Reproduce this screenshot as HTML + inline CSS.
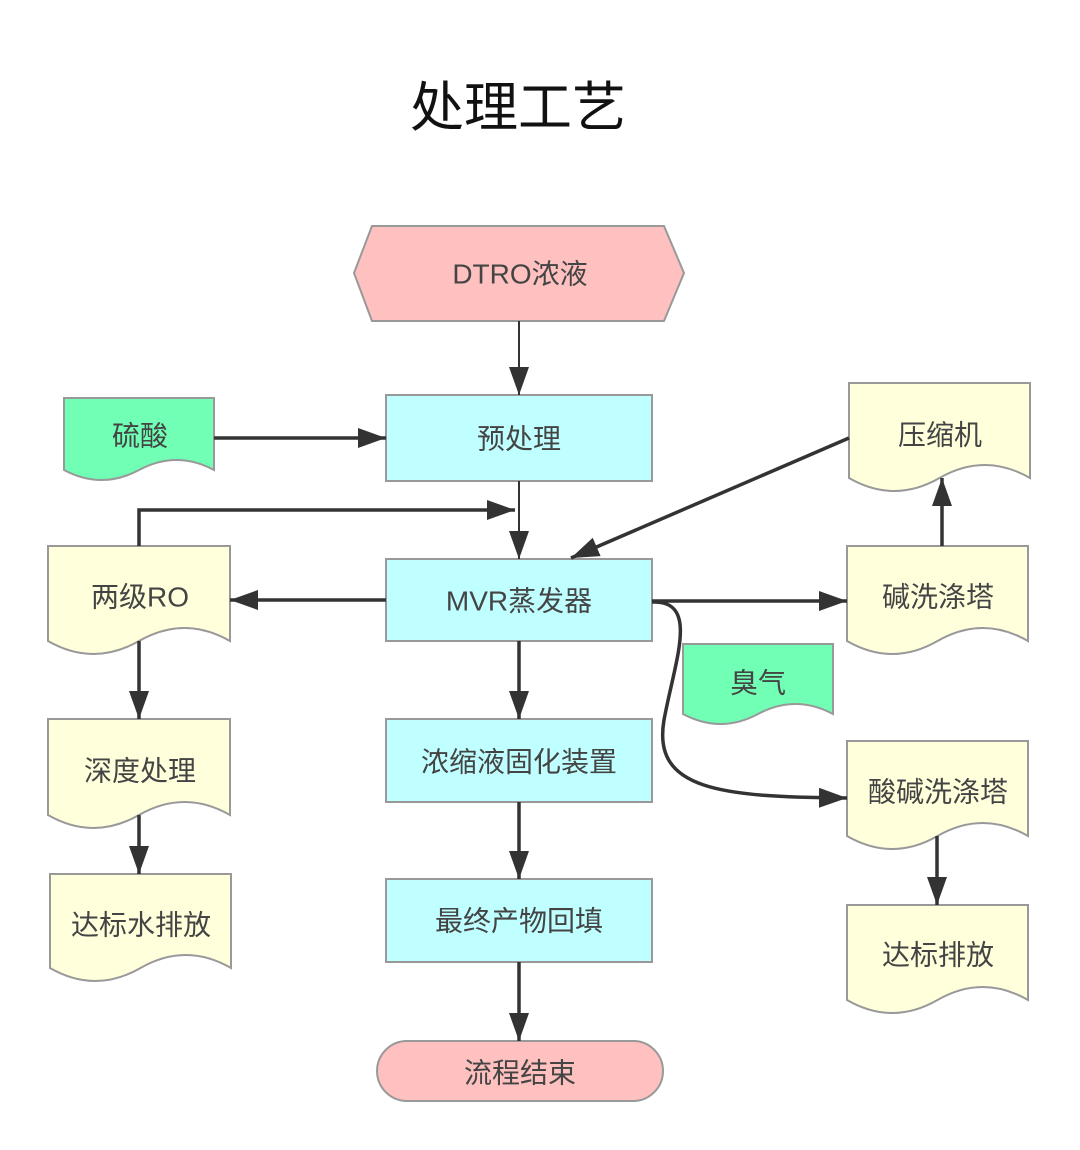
<!DOCTYPE html>
<html><head><meta charset="utf-8"><style>
html,body{margin:0;padding:0;background:#fff;}
svg{display:block;}
text{font-family:"Liberation Sans","Noto Sans CJK SC",sans-serif;fill:#444;font-size:28px;text-anchor:middle;dominant-baseline:central;}
</style></head><body>
<svg width="1080" height="1150" viewBox="0 0 1080 1150" xmlns="http://www.w3.org/2000/svg">
<defs>
<marker id="a" markerUnits="userSpaceOnUse" markerWidth="30" markerHeight="22" refX="28" refY="10" orient="auto"><path d="M0,0 L28,10 L0,20 z" fill="#333"/></marker>
</defs>
<text x="518" y="108" style="font-size:54px;fill:#111">处理工艺</text>

<g stroke="#999" stroke-width="2">
<polygon points="372,226 664,226 684,273 664,321 372,321 354,273" fill="#ffc0c0"/>
<rect x="386" y="395" width="266" height="86" fill="#c0ffff"/>
<rect x="386" y="559" width="266" height="82" fill="#c0ffff"/>
<rect x="386" y="719" width="266" height="83" fill="#c0ffff"/>
<rect x="386" y="879" width="266" height="83" fill="#c0ffff"/>
<rect x="377" y="1041" width="286" height="60" rx="30" fill="#ffc0c0"/>
<path d="M64 398 H214 V470 Q176.5 450 139 470 T64 470 Z" fill="#70ffb4"/>
<path d="M683 644 H833 V714 Q795.5 694 758 714 T683 714 Z" fill="#70ffb4"/>
<g fill="#ffffdc">
<path d="M48 546 H230 V641 Q184.5 615 139 641 T48 641 Z"/>
<path d="M48 719 H230 V815 Q184.5 789 139 815 T48 815 Z"/>
<path d="M50 874 H231 V968 Q185.75 942 140.5 968 T50 968 Z"/>
<path d="M849 383 H1030 V478 Q984.75 452 939.5 478 T849 478 Z"/>
<path d="M847 546 H1028 V641 Q982.75 615 937.5 641 T847 641 Z"/>
<path d="M847 741 H1028 V836 Q982.75 810 937.5 836 T847 836 Z"/>
<path d="M847 905 H1028 V1000 Q982.75 974 937.5 1000 T847 1000 Z"/>
</g>
</g>

<g stroke="#333" stroke-width="3.5" fill="none" marker-end="url(#a)">
<line x1="519" y1="321" x2="519" y2="395" stroke-width="2"/>
<line x1="214" y1="438" x2="386" y2="438"/>
<line x1="519" y1="481" x2="519" y2="559" stroke-width="2"/>
<polyline points="139,546 139,510 515,510"/>
<line x1="386" y1="600" x2="230" y2="600"/>
<line x1="139" y1="641" x2="139" y2="719"/>
<line x1="139" y1="815" x2="139" y2="874"/>
<line x1="519" y1="641" x2="519" y2="719"/>
<line x1="519" y1="802" x2="519" y2="879"/>
<line x1="519" y1="962" x2="519" y2="1041"/>
<line x1="849" y1="438" x2="571" y2="558"/>
<line x1="942" y1="546" x2="942" y2="478"/>
<line x1="652" y1="601" x2="847" y2="601"/>
<line x1="937" y1="836" x2="937" y2="905"/>
<path d="M652,602 C700,600 675,660 664,720 C652,790 720,797 847,798"/>
</g>

<text x="520" y="274">DTRO浓液</text>
<text x="519" y="439">预处理</text>
<text x="519" y="601">MVR蒸发器</text>
<text x="519" y="762">浓缩液固化装置</text>
<text x="519" y="921">最终产物回填</text>
<text x="520" y="1073">流程结束</text>
<text x="140" y="436">硫酸</text>
<text x="758" y="683">臭气</text>
<text x="140" y="597">两级RO</text>
<text x="140" y="771">深度处理</text>
<text x="141" y="925">达标水排放</text>
<text x="940" y="435">压缩机</text>
<text x="938" y="597">碱洗涤塔</text>
<text x="938" y="792">酸碱洗涤塔</text>
<text x="938" y="955">达标排放</text>
</svg>
</body></html>
